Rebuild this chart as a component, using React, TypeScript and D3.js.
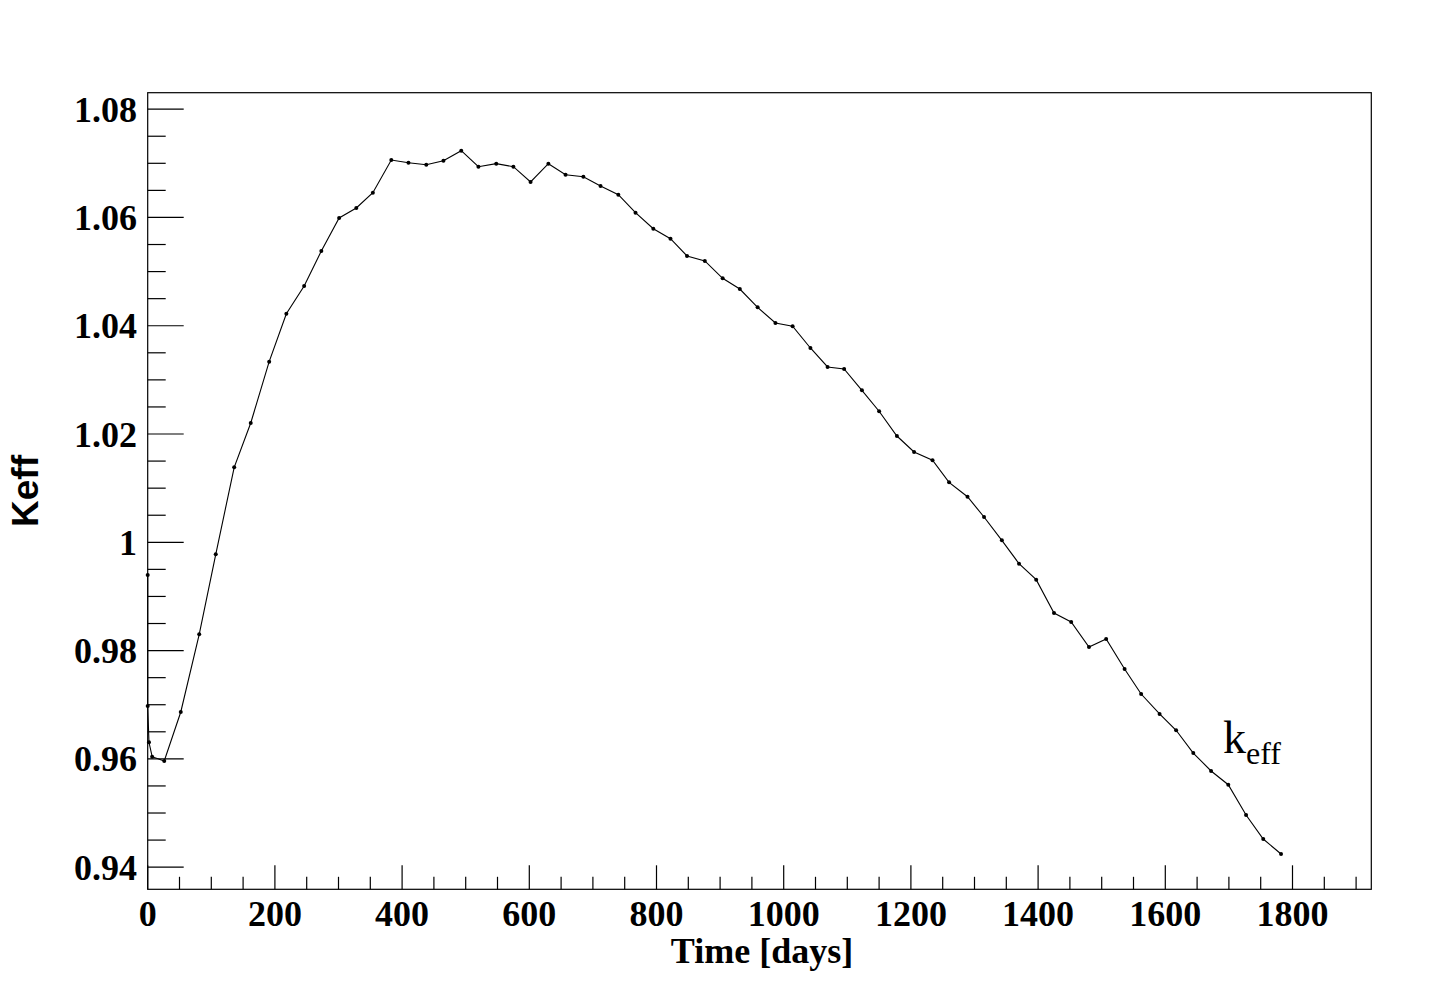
import React from "react";
import * as d3 from "d3";

const days = [0, 0, 2, 7, 26, 52, 81, 107, 136, 162, 191, 218, 246, 273, 301, 328, 354, 383, 410, 438, 465, 493, 520, 548, 575, 602, 630, 657, 685, 712, 740, 767, 795, 822, 848, 876, 904, 931, 959, 987, 1014, 1042, 1069, 1095, 1123, 1150, 1178, 1205, 1234, 1260, 1289, 1315, 1343, 1370, 1397, 1425, 1452, 1480, 1507, 1536, 1562, 1591, 1617, 1644, 1672, 1699, 1727, 1754, 1782];
const keff = [0.99396, 0.96977, 0.96306, 0.9604, 0.95961, 0.96866, 0.98301, 0.99778, 1.01385, 1.02203, 1.03336, 1.04222, 1.04734, 1.0538, 1.0599, 1.06175, 1.06457, 1.07061, 1.07011, 1.06974, 1.07048, 1.07233, 1.06937, 1.06993, 1.06937, 1.06655, 1.06993, 1.0679, 1.06753, 1.06581, 1.0642, 1.06088, 1.05792, 1.05607, 1.05288, 1.05196, 1.04876, 1.04678, 1.0434, 1.0405, 1.0399, 1.03589, 1.03238, 1.03201, 1.02807, 1.0242, 1.01963, 1.01668, 1.01515, 1.01108, 1.00842, 1.00467, 1.00037, 0.99605, 0.99309, 0.98694, 0.98528, 0.98066, 0.98214, 0.9766, 0.97198, 0.96829, 0.96528, 0.96108, 0.95776, 0.95523, 0.94963, 0.9452, 0.94243];

const xMajorTicks = [0, 200, 400, 600, 800, 1000, 1200, 1400, 1600, 1800];
const yMajorTicks = [0.94, 0.96, 0.98, 1.0, 1.02, 1.04, 1.06, 1.08];
const yTickLabels = ["0.94", "0.96", "0.98", "1", "1.02", "1.04", "1.06", "1.08"];
const xTitle = "Time [days]";
const yTitle = "Keff";

const W = 1431;
const H = 983;
const L = 147.7, R = 1371.3, T = 92.7, B = 889.3;

export default function App() {
  const x = d3.scaleLinear().domain([0, 1923.9]).range([L, R]);
  const y = d3.scaleLinear().domain([0.93591, 1.08304]).range([B, T]);

  const xMinor = d3.range(0, 1923, 50).filter((v) => v % 200 !== 0);
  const yMinor = d3.range(0, 30).map((i) => +(0.935 + i * 0.005).toFixed(3))
    .filter((v) => v >= 0.93591 && v <= 1.08304 && !yMajorTicks.some((m) => Math.abs(m - v) < 1e-6));

  const line = d3.line<number>().x((_, i) => x(days[i])).y((d) => y(d));

  const serif = "'Liberation Serif', 'Times New Roman', serif";
  const sans = "'Liberation Sans', Arial, sans-serif";

  return (
    <svg width={W} height={H} style={{ position: "absolute", left: 0, top: 0, background: "#fff" }}>
      <rect x={0} y={0} width={W} height={H} fill="#fff" />
      <rect x={L} y={T} width={R - L} height={B - T} fill="none" stroke="#000" strokeWidth={1.2} />
      {yMajorTicks.map((v) => (
        <line key={"ym" + v} x1={L} x2={L + 36} y1={y(v)} y2={y(v)} stroke="#000" strokeWidth={1.2} />
      ))}
      {yMinor.map((v) => (
        <line key={"yn" + v} x1={L} x2={L + 18} y1={y(v)} y2={y(v)} stroke="#000" strokeWidth={1.2} />
      ))}
      {yMajorTicks.map((v, i) => (
        <text key={"yl" + v} x={137} y={y(v)} dy="0.35em" textAnchor="end" fontFamily={serif} fontWeight="bold" fontSize={36}>
          {yTickLabels[i]}
        </text>
      ))}
      {xMajorTicks.map((v) => (
        <line key={"xm" + v} x1={x(v)} x2={x(v)} y1={B} y2={B - 24} stroke="#000" strokeWidth={1.2} />
      ))}
      {xMinor.map((v) => (
        <line key={"xn" + v} x1={x(v)} x2={x(v)} y1={B} y2={B - 12.5} stroke="#000" strokeWidth={1.2} />
      ))}
      {xMajorTicks.map((v) => (
        <text key={"xl" + v} x={x(v)} y={926} textAnchor="middle" fontFamily={serif} fontWeight="bold" fontSize={36}>
          {v}
        </text>
      ))}
      <text x={762} y={963} textAnchor="middle" fontFamily={serif} fontWeight="bold" fontSize={36}>
        {xTitle}
      </text>
      <text transform={`translate(38,${(T + B) / 2}) rotate(-90)`} textAnchor="middle" fontFamily={sans} fontWeight="bold" fontSize={37}>
        {yTitle}
      </text>
      <path d={line(keff) || ""} fill="none" stroke="#000" strokeWidth={1.1} />
      {keff.map((v, i) => (
        <circle key={"p" + i} cx={x(days[i])} cy={y(v)} r={2} fill="#000" />
      ))}
      <text x={1223} y={753} fontFamily={serif} fontSize={46}>
        k
        <tspan fontSize={32} dy={11}>eff</tspan>
      </text>
    </svg>
  );
}
